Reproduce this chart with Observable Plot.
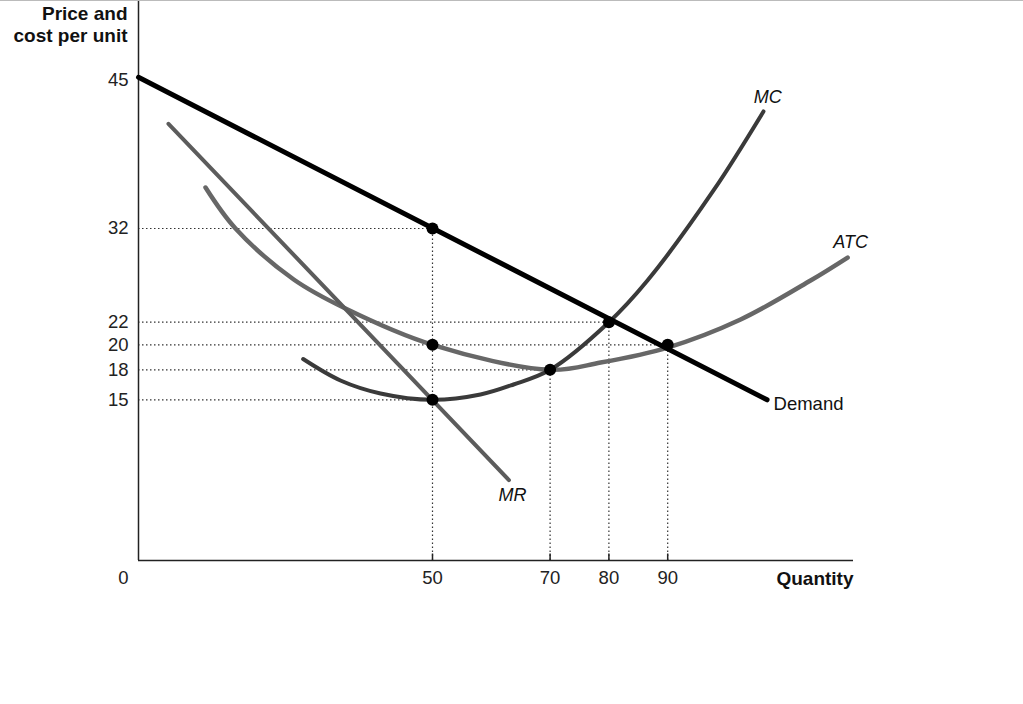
<!DOCTYPE html>
<html><head><meta charset="utf-8">
<script src="https://cdn.jsdelivr.net/npm/d3@7"></script>
<script src="https://cdn.jsdelivr.net/npm/@observablehq/plot@0.6"></script>
<style>
html,body{margin:0;padding:0;background:#fff;}
#chart{position:absolute;left:0;top:0;}
#topline{position:absolute;left:0;top:0;width:1023px;height:1px;background:#bbb;}
</style></head><body><div id="chart"></div><div id="topline"></div>
<script>
// Tick values
const yTicks = [15, 18, 20, 22, 32, 45];
const xTicks = [50, 70, 80, 90];
// Curves (quantity q, price/cost p)
const demand = [{q: 0, p: 45.3}, {q: 106.9, p: 15.0}];
const mr = [{q: 5.1, p: 41.2}, {q: 63.0, p: 7.5}];
const atc = [
  {q: 11.4, p: 35.6}, {q: 16.5, p: 32.0}, {q: 26.4, p: 26.56}, {q: 35.2, p: 23.46},
  {q: 50, p: 20.0}, {q: 70, p: 18.0}, {q: 78.6, p: 18.58}, {q: 90, p: 19.78},
  {q: 102.4, p: 22.29}, {q: 114.3, p: 26.45}, {q: 120.6, p: 28.9}
];
const mc = [
  {q: 28.0, p: 18.86}, {q: 34.35, p: 16.93}, {q: 41.16, p: 15.63}, {q: 50, p: 15.0},
  {q: 58.16, p: 15.53}, {q: 63.78, p: 16.53}, {q: 70, p: 18.0}, {q: 80, p: 22.0},
  {q: 86.56, p: 26.45}, {q: 97.79, p: 35.34}, {q: 106.29, p: 42.28}
];
// Highlighted points
const points = [{q: 50, p: 32}, {q: 50, p: 20}, {q: 50, p: 15}, {q: 70, p: 18}, {q: 80, p: 22}, {q: 90, p: 20}];
// Dotted guides
const hGuides = [{p: 32, q: 50}, {p: 22, q: 80}, {p: 20, q: 90}, {p: 18, q: 70}, {p: 15, q: 50}];
const vGuides = [{q: 50, p: 32}, {q: 70, p: 18}, {q: 80, p: 22}, {q: 90, p: 20}];
// Curve labels
const curveLabels = [
  {text: "MC", q: 107.0, p: 43.5, italic: true},
  {text: "ATC", q: 121.1, p: 30.5, italic: true},
  {text: "MR", q: 63.6, p: 6.06, italic: true},
  {text: "Demand", q: 108.0, p: 14.56, italic: false}
];
const xMax = 121.6, yMax = 52.5;

const fontFam = '"Liberation Sans", Arial, Helvetica, sans-serif';
const tickSym = {draw(ctx) { ctx.moveTo(0, 0); ctx.lineTo(0, -7); }};
const dotted = {stroke: "#333", strokeWidth: 1.2, strokeDasharray: "1.5,2.5"};

const chart = Plot.plot({
  width: 1023, height: 704,
  marginLeft: 138, marginRight: 170, marginTop: 0, marginBottom: 144,
  style: {fontFamily: fontFam, background: "#fff", overflow: "visible"},
  x: {domain: [0, xMax], axis: null},
  y: {type: "linear", domain: [0, 15, 18, 20, 22, 32, 45, yMax],
      range: [560, 399.3, 369.3, 344.3, 321.7, 228, 80, 0], axis: null},
  marks: [
    Plot.ruleY(hGuides, {y: "p", x1: () => 0, x2: "q", ...dotted}),
    Plot.ruleX(vGuides, {x: "q", y1: () => 0, y2: "p", ...dotted}),
    Plot.ruleX([0], {stroke: "#222", strokeWidth: 1.5}),
    Plot.ruleY([0], {stroke: "#222", strokeWidth: 1.5}),
    Plot.dot(xTicks, {x: d => d, y: () => 0, symbol: tickSym, fill: "none", stroke: "#222", strokeWidth: 1.5}),
    Plot.line(atc, {x: "q", y: "p", curve: "catmull-rom", stroke: "#676767", strokeWidth: 4.5}),
    Plot.line(mr, {x: "q", y: "p", stroke: "#5c5c5c", strokeWidth: 4}),
    Plot.line(mc, {x: "q", y: "p", curve: "catmull-rom", stroke: "#3a3a3a", strokeWidth: 4}),
    Plot.line(demand, {x: "q", y: "p", stroke: "#000", strokeWidth: 5}),
    Plot.dot(points, {x: "q", y: "p", r: 6, fill: "#000"}),
    Plot.text(yTicks, {x: () => 0, y: d => d, text: d => String(d), textAnchor: "end", dx: -10, fontSize: 18.5, fill: "#222"}),
    Plot.text(xTicks, {x: d => d, y: () => 0, text: d => String(d), dy: 18, fontSize: 18.5, fill: "#222"}),
    Plot.text(["0"], {x: () => 0, y: () => 0, dx: -15, dy: 18, fontSize: 18.5, fill: "#222"}),
    Plot.text(["Quantity"], {x: () => xMax, y: () => 0, textAnchor: "end", dy: 18, fontSize: 19, fontWeight: "bold", fill: "#111"}),
    Plot.text(["Price and\ncost per unit"], {x: () => 0, y: () => yMax, textAnchor: "end", lineAnchor: "top", dx: -11, dy: 3, fontSize: 19, fontWeight: "bold", lineHeight: 1.2, fill: "#111"}),
    Plot.text(curveLabels.filter(d => d.italic), {x: "q", y: "p", text: "text", fontStyle: "italic", fontSize: 18, fill: "#111"}),
    Plot.text(curveLabels.filter(d => !d.italic), {x: "q", y: "p", text: "text", textAnchor: "start", fontSize: 18.5, fill: "#111"})
  ]
});
document.getElementById("chart").append(chart);
</script>
</body></html>
